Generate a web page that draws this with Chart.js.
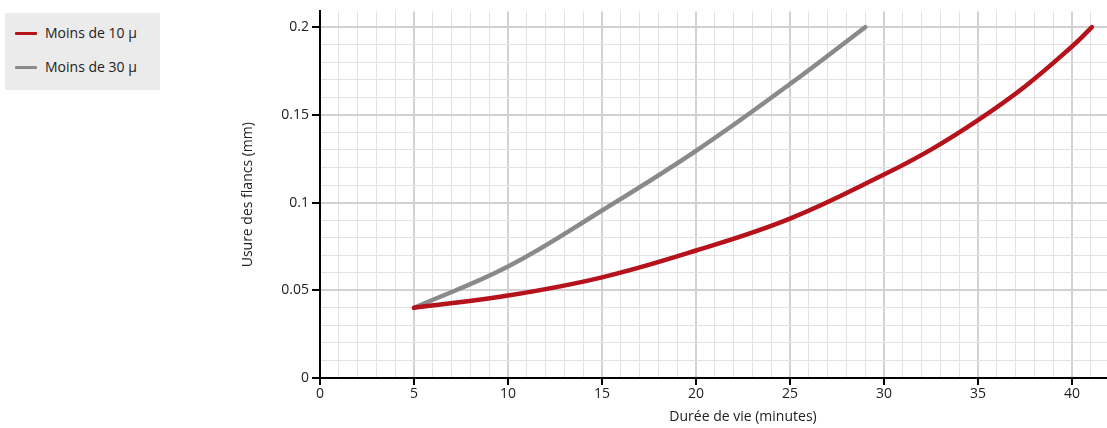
<!DOCTYPE html>
<html>
<head>
<meta charset="utf-8">
<script src="https://cdn.jsdelivr.net/npm/chart.js@4"></script>
<style>
  html, body { margin: 0; padding: 0; background: #fff; overflow: hidden; }
  body { width: 1107px; height: 428px; position: relative; font-family: 'Open Sans', sans-serif; }
  #wrap { position: absolute; left: 0; top: 0; width: 1175px; height: 428px; }
  #legend { position: absolute; left: 5px; top: 13px; width: 155px; height: 77px; background: #ebebeb; }
  .item { position: absolute; left: 10px; height: 20px; font-size: 14px; color: #222; }
  .item span.sw { position: absolute; left: 0; top: 9px; width: 22px; height: 3px; border-radius: 1px; }
  .item span.lb { position: absolute; left: 30px; top: 0; white-space: nowrap; line-height: 20px; }
</style>
</head>
<body>
<div id="wrap"><canvas id="chart" width="1175" height="428"></canvas></div>
<div id="legend"></div>
<script>
const seriesNames = ['Moins de 10 µ', 'Moins de 30 µ'];
const seriesColors = ['#b5121b', '#8a8a8a'];

const red_x = [5, 10, 15, 20, 25, 30, 32.5, 35, 37.5, 40, 41.06];
const red_y = [0.04, 0.047, 0.0574, 0.0727, 0.0909, 0.116, 0.1302, 0.147, 0.1662, 0.189, 0.2];
const gray_x = [5, 10, 15, 20, 25, 29];
const gray_y = [0.04, 0.0635, 0.0955, 0.1295, 0.1676, 0.2];

const xMax = 45;
const yMax = 0.209;

function pts(xs, ys) { return xs.map((x, i) => ({ x: x, y: ys[i] })); }

// legend
const legend = document.getElementById('legend');
seriesNames.forEach((name, i) => {
    const d = document.createElement('div');
    d.className = 'item';
    d.style.top = (10 + i * 34) + 'px';
    d.innerHTML = '<span class="sw" style="background:' + seriesColors[i] + '"></span><span class="lb">' + name + '</span>';
    legend.appendChild(d);
});

Chart.defaults.font.family = "'Open Sans', sans-serif";
Chart.defaults.font.size = 14;
Chart.defaults.color = '#222';

const isMajorX = v => Math.abs(v % 5) < 1e-6;
const isMajorY = v => Math.abs(Math.round(v * 100) % 5) === 0;

new Chart(document.getElementById('chart'), {
    type: 'line',
    data: {
        datasets: [
            { label: seriesNames[0], data: pts(red_x, red_y), borderColor: seriesColors[0], borderWidth: 4.5, pointRadius: 0, tension: 0.4, borderCapStyle: 'round' },
            { label: seriesNames[1], data: pts(gray_x, gray_y), borderColor: seriesColors[1], borderWidth: 4.5, pointRadius: 0, tension: 0.4, borderCapStyle: 'round' }
        ]
    },
    options: {
        responsive: false,
        animation: false,
        layout: { padding: { left: 230, top: 8, right: 5, bottom: 0 } },
        plugins: { legend: { display: false }, tooltip: { enabled: false } },
        scales: {
            x: {
                type: 'linear', min: 0, max: xMax,
                afterBuildTicks: s => { s.ticks = s.ticks.filter(t => Number.isInteger(Math.round(t.value * 1e6) / 1e6)); },
                afterFit: s => { s.height = 50; },
                border: { color: '#000', width: 2 },
                grid: {
                    color: c => isMajorX(c.tick.value) ? '#d2d2d2' : '#e2e2e2',
                    lineWidth: c => isMajorX(c.tick.value) ? 2 : 1,
                    tickColor: c => isMajorX(c.tick.value) ? '#000' : 'rgba(0,0,0,0)',
                    tickWidth: 2, tickLength: 7
                },
                ticks: { stepSize: 1, autoSkip: false, maxRotation: 0, padding: 1,
                    callback: v => isMajorX(v) ? String(v) : '' },
                title: { display: true, text: 'Durée de vie (minutes)', padding: { top: 0, bottom: 3 } }
            },
            y: {
                type: 'linear', min: 0, max: yMax,
                afterBuildTicks: s => { s.ticks = []; for (let i = 0; i <= 20; i++) s.ticks.push({ value: i / 100 }); },
                afterFit: s => { s.width = 90; },
                border: { color: '#000', width: 2 },
                grid: {
                    color: c => isMajorY(c.tick.value) ? '#d2d2d2' : '#e2e2e2',
                    lineWidth: c => isMajorY(c.tick.value) ? 2 : 1,
                    tickColor: c => isMajorY(c.tick.value) ? '#000' : 'rgba(0,0,0,0)',
                    tickWidth: 2, tickLength: 8
                },
                ticks: { autoSkip: false, padding: 3,
                    callback: v => isMajorY(v) ? String(Math.round(v * 100) / 100) : '' },
                title: { display: true, text: 'Usure des flancs (mm)', padding: { top: 10, bottom: 0 } }
            }
        }
    }
});
</script>
</body>
</html>
